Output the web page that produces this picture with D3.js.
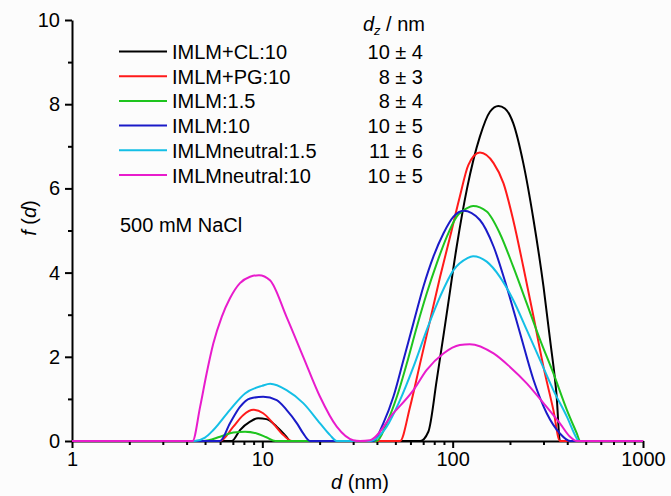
<!DOCTYPE html>
<html>
<head>
<meta charset="utf-8">
<script src="https://cdn.jsdelivr.net/npm/d3@7"></script>
<style>
  body { margin: 0; background: #fcfcfc; }
  svg { display: block; font-family: "Liberation Sans", Arial, sans-serif; }
  .axis text { font-size: 20px; fill: #000; font-family: "Liberation Sans", Arial, sans-serif; }
  .axis path, .axis line { stroke: #000; stroke-width: 2px; }
</style>
</head>
<body>
<svg id="chart" width="671" height="496"></svg>
<script>
// DLS size distributions, 500 mM NaCl -- values as [d (nm), f(d)]

var names = ["IMLM+CL:10", "IMLM+PG:10", "IMLM:1.5", "IMLM:10", "IMLMneutral:1.5", "IMLMneutral:10"];
var dzLabels = ["10 \u00b1 4", "8 \u00b1 3", "8 \u00b1 4", "10 \u00b1 5", "11 \u00b1 6", "10 \u00b1 5"];
var colors = ["#000000", "#ff1a1a", "#1ec41e", "#1a1ac8", "#14bfe6", "#e81ccc"];

var xTicks = [1, 10, 100, 1000];
var yTicks = [0, 2, 4, 6, 8, 10];
var yMinor = [1, 3, 5, 7, 9];

var clBlack = [[1, 0], [6.9, 0], [7.63, 0.26], [8.62, 0.46], [9.5, 0.54], [10.5, 0.52], [11.9, 0.34], [13.4, 0.1], [14.0, 0],
  [67.5, 0], [74.5, 0.22], [82.5, 1.45], [93.1, 3.03], [105, 4.62], [119, 6.0], [139, 7.23], [157, 7.82], [174, 7.96],
  [188, 7.9], [208, 7.55], [235, 6.6], [266, 5.25], [300, 3.67], [325, 2.4], [352, 1.05], [366, 0], [1000, 0]];

var pgRed = [[1, 0], [6.0, 0], [7.04, 0.34], [7.95, 0.62], [8.97, 0.74], [10.1, 0.66], [11.4, 0.42], [12.9, 0.14], [14.3, 0],
  [52.9, 0], [59.7, 0.81], [67.5, 1.85], [76.1, 2.87], [85.9, 3.9], [96.9, 4.85], [109, 5.8], [121, 6.56], [139, 6.85],
  [164, 6.6], [185, 6.12], [208, 5.25], [235, 4.14], [266, 2.95], [300, 1.76], [338, 0.74], [366, 0], [1000, 0]];

var imlm15Green = [[1, 0], [4.9, 0], [6.0, 0.1], [7.04, 0.2], [8.11, 0.22], [9.35, 0.18], [10.5, 0.09], [11.7, 0],
  [39.9, 0], [45, 0.42], [50.9, 1.05], [57.4, 1.84], [64.8, 2.71], [73.1, 3.51], [82.5, 4.22], [93.1, 4.85], [105, 5.33],
  [119, 5.53], [128, 5.58], [151, 5.45], [177, 4.93], [208, 4.14], [245, 3.27], [288, 2.4], [338, 1.61], [398, 0.74],
  [449, 0.18], [467, 0], [1000, 0]];

var imlm10Blue = [[1, 0], [6.0, 0], [6.76, 0.42], [7.63, 0.81], [8.62, 1.01], [10.1, 1.05], [11.9, 0.97], [13.4, 0.74],
  [15.2, 0.42], [16.4, 0.18], [17.8, 0],
  [38.3, 0], [43.2, 0.42], [48.8, 1.05], [55.1, 1.92], [62.2, 2.8], [70.2, 3.67], [79.2, 4.38], [89.4, 4.93], [101, 5.33],
  [114, 5.47], [139, 5.25], [164, 4.62], [192, 3.67], [226, 2.56], [266, 1.45], [312, 0.66], [366, 0.18], [414, 0], [1000, 0]];

var neutral15Cyan = [[1, 0], [4.4, 0], [5.0, 0.08], [5.53, 0.26], [6.76, 0.74], [8.11, 1.13], [9.96, 1.31], [11, 1.36],
  [13.4, 1.21], [16.4, 0.9], [20.1, 0.42], [22.7, 0.14], [24.6, 0],
  [36.8, 0], [45, 0.34], [52.9, 0.97], [62.2, 1.76], [73.1, 2.64], [85.9, 3.43], [101, 4.06], [119, 4.34], [128, 4.39],
  [151, 4.26], [177, 3.9], [208, 3.35], [245, 2.64], [288, 1.92], [338, 1.21], [398, 0.58], [449, 0.06], [458, 0], [1000, 0]];

var neutral10Magenta = [[1, 0], [4.3, 0], [4.71, 0.81], [5.1, 1.61], [5.53, 2.32], [6.12, 2.95], [6.76, 3.39], [7.63, 3.75],
  [8.62, 3.9], [9.6, 3.94], [10.97, 3.82], [13.4, 2.95], [16.4, 2.0], [20.1, 1.05], [24.6, 0.34], [30, 0.02], [32.6, 0],
  [36.8, 0.02], [48.8, 0.66], [62.2, 1.21], [73.1, 1.69], [89.4, 2.08], [109, 2.28], [123, 2.3], [164, 2.08], [200, 1.76],
  [245, 1.37], [300, 0.9], [366, 0.42], [414, 0.1], [449, 0], [1000, 0]];

var series = [clBlack, pgRed, imlm15Green, imlm10Blue, neutral15Cyan, neutral10Magenta];

///////////////////////////////////////////////////////////////////////////////
// Scales and axes

var svg = d3.select("#chart");

var x = d3.scaleLog().domain([1, 1000]).range([72, 643]);
var y = d3.scaleLinear().domain([0, 10]).range([441, 20]);

var xMinor = x.ticks().filter(function (d) { return xTicks.indexOf(d) < 0; });

svg.append("g")
  .attr("class", "axis")
  .attr("transform", "translate(0," + y(0) + ")")
  .call(d3.axisBottom(x).tickValues(xMinor).tickFormat("").tickSize(4).tickSizeOuter(0))
  .call(function (g) { g.select(".domain").remove(); });

svg.append("g")
  .attr("class", "axis")
  .attr("transform", "translate(" + x(1) + ",0)")
  .call(d3.axisLeft(y).tickValues(yMinor).tickFormat("").tickSize(4).tickSizeOuter(0))
  .call(function (g) { g.select(".domain").remove(); });

svg.append("g")
  .attr("class", "axis")
  .attr("transform", "translate(0," + y(0) + ")")
  .call(d3.axisBottom(x).tickValues(xTicks).tickFormat(d3.format("d")).tickSize(7).tickSizeOuter(0).tickPadding(4));

svg.append("g")
  .attr("class", "axis")
  .attr("transform", "translate(" + x(1) + ",0)")
  .call(d3.axisLeft(y).tickValues(yTicks).tickSize(7).tickSizeOuter(0).tickPadding(5));

// axis titles
var xTitle = svg.append("text")
  .attr("x", 360).attr("y", 489)
  .attr("text-anchor", "middle")
  .style("font-size", "20px");
xTitle.append("tspan").style("font-style", "italic").text("d");
xTitle.append("tspan").text(" (nm)");

var yTitle = svg.append("text")
  .attr("transform", "translate(36,218) rotate(-90)")
  .attr("text-anchor", "middle")
  .style("font-size", "20px");
yTitle.append("tspan").style("font-style", "italic").text("f");
yTitle.append("tspan").text(" (");
yTitle.append("tspan").style("font-style", "italic").text("d");
yTitle.append("tspan").text(")");

///////////////////////////////////////////////////////////////////////////////
// Curves

var line = d3.line()
  .x(function (p) { return x(p[0]); })
  .y(function (p) { return y(p[1]); })
  .curve(d3.curveMonotoneX);

svg.append("g").selectAll("path")
  .data(series)
  .enter().append("path")
  .attr("d", line)
  .attr("fill", "none")
  .attr("stroke", function (d, i) { return colors[i]; })
  .attr("stroke-width", 2)
  .attr("stroke-linejoin", "round");

///////////////////////////////////////////////////////////////////////////////
// Legend

var legend = svg.append("g");
var rowY = function (i) { return 51.5 + i * 24.7; };

legend.selectAll("line")
  .data(names)
  .enter().append("line")
  .attr("x1", 119).attr("x2", 167)
  .attr("y1", function (d, i) { return rowY(i); })
  .attr("y2", function (d, i) { return rowY(i); })
  .attr("stroke", function (d, i) { return colors[i]; })
  .attr("stroke-width", 2);

legend.selectAll("text.name")
  .data(names)
  .enter().append("text")
  .attr("class", "name")
  .attr("x", 172)
  .attr("y", function (d, i) { return rowY(i) + 7.5; })
  .style("font-size", "20px")
  .text(function (d) { return d; });

legend.selectAll("text.dz")
  .data(dzLabels)
  .enter().append("text")
  .attr("class", "dz")
  .attr("x", 423)
  .attr("y", function (d, i) { return rowY(i) + 7.5; })
  .attr("text-anchor", "end")
  .style("font-size", "20px")
  .text(function (d) { return d; });

var head = legend.append("text")
  .attr("x", 425).attr("y", 31)
  .attr("text-anchor", "end")
  .style("font-size", "20px");
head.append("tspan").style("font-style", "italic").text("d");
head.append("tspan").style("font-style", "italic").style("font-size", "13px").attr("dy", 4).text("z");
head.append("tspan").attr("dy", -4).text(" / nm");

svg.append("text")
  .attr("x", 120).attr("y", 232)
  .style("font-size", "20px")
  .text("500 mM NaCl");
</script>
</body>
</html>
